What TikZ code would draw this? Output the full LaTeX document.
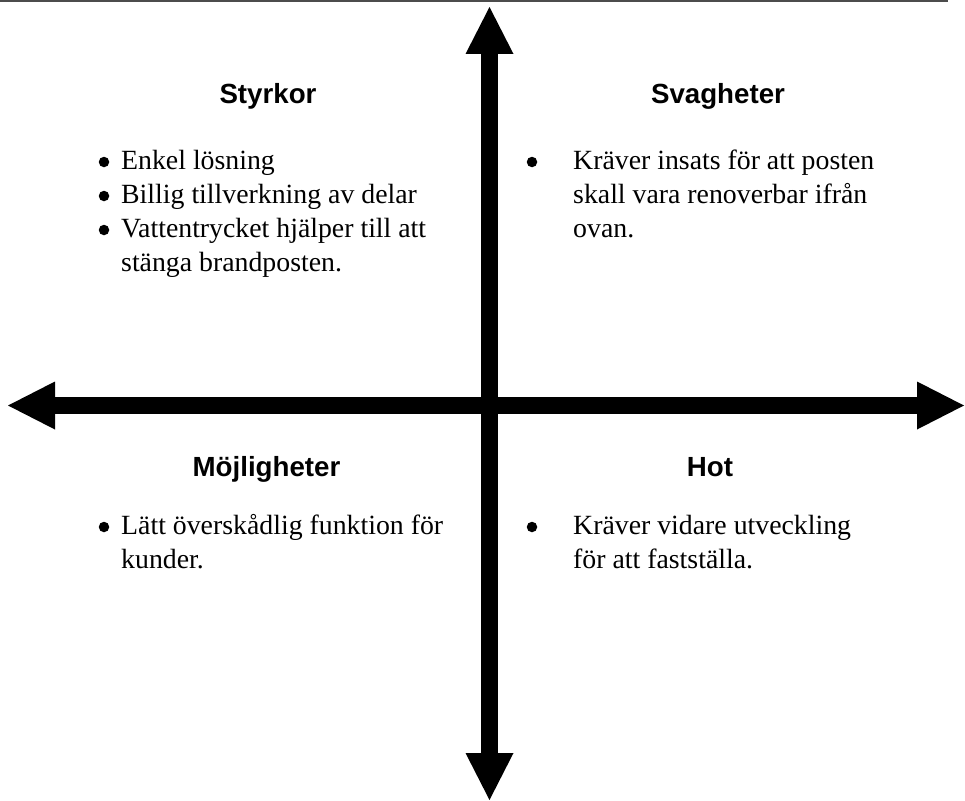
\documentclass[tikz,border=0pt]{standalone}
\usepackage{fontspec}
\setmainfont{Liberation Serif}
\newfontfamily\headfont{Liberation Sans}
\usetikzlibrary{arrows.meta}

\tikzset{
  x=1pt, y=-1pt,
  heading/.style={anchor=base, inner sep=0pt,
    font=\headfont\bfseries\fontsize{27.7}{34}\selectfont},
  itemline/.style={anchor=base west, inner sep=0pt,
    font=\fontsize{27.8}{34}\selectfont},
  bulletdot/.style={circle, fill=black, inner sep=0pt, minimum size=10.5pt},
  axis/.style={line width=16.5pt,
    {Triangle[line width=0pt,length=47pt,width=48pt]}-{Triangle[line width=0pt,length=47pt,width=48pt]}},
  rule/.style={line width=2pt, draw=black!70},
}

\begin{document}
\begin{tikzpicture}
\useasboundingbox (0,0) rectangle (965,800);

% thin rule along the top edge
\coordinate (rule-l) at (0,1);
\coordinate (rule-r) at (948,1);
\draw[rule] (rule-l) -- (rule-r);

% the two double-headed axes
\coordinate (ax-n) at (489.5,7);
\coordinate (ax-s) at (489.5,800);
\coordinate (ax-w) at (8,405.5);
\coordinate (ax-e) at (964,405.5);
\draw[axis] (ax-n) -- (ax-s);
\draw[axis] (ax-w) -- (ax-e);

% Styrkor
\node[heading] (h-styrkor) at (268,103) {Styrkor};
\node[bulletdot] (b-s1) at (104,162) {};
\node[itemline] (s1) at (121,169) {Enkel lösning};
\node[bulletdot] (b-s2) at (104,196) {};
\node[itemline] (s2) at (121,203) {Billig tillverkning av delar};
\node[bulletdot] (b-s3) at (104,230) {};
\node[itemline] (s3a) at (121,237) {Vattentrycket hjälper till att};
\node[itemline] (s3b) at (121,271) {stänga brandposten.};

% Svagheter
\node[heading] (h-svagheter) at (718,103) {Svagheter};
\node[bulletdot] (b-w1) at (532,162) {};
\node[itemline] (w1a) at (573,169) {Kräver insats för att posten};
\node[itemline] (w1b) at (573,203) {skall vara renoverbar ifrån};
\node[itemline] (w1c) at (573,237) {ovan.};

% Möjligheter
\node[heading] (h-mojligheter) at (266.5,476) {Möjligheter};
\node[bulletdot] (b-o1) at (104,527) {};
\node[itemline] (o1a) at (121,534) {Lätt överskådlig funktion för};
\node[itemline] (o1b) at (121,568) {kunder.};

% Hot
\node[heading] (h-hot) at (710,476) {Hot};
\node[bulletdot] (b-t1) at (532,527) {};
\node[itemline] (t1a) at (573,534) {Kräver vidare utveckling};
\node[itemline] (t1b) at (573,568) {för att fastställa.};
\end{tikzpicture}
\end{document}
